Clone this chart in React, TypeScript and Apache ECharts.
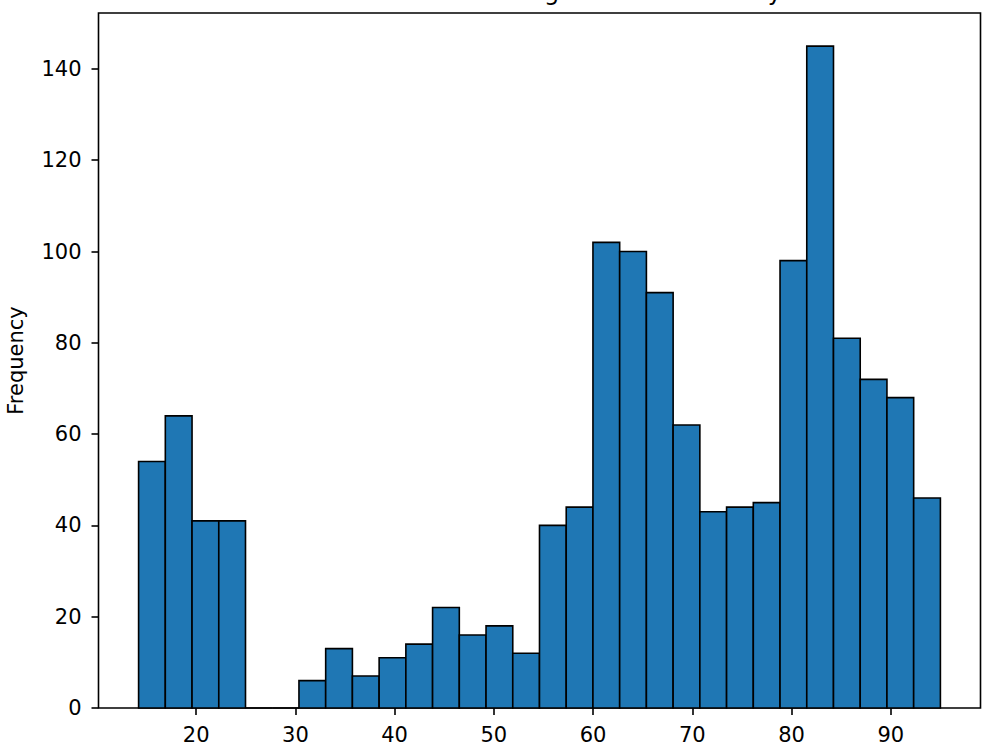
import React, { useEffect, useRef } from "react";
import * as echarts from "echarts";

const titleText = "Distribution of Average Scores in Survey";
const yAxisTitle = "Frequency";
const binStart = 14.2;
const binWidth = 2.6933;
const binCounts = [
  54, 64, 41, 41, 0, 0, 6, 13, 7, 11, 14, 22, 16, 18, 12, 40, 44, 102, 100, 91,
  62, 43, 44, 45, 98, 145, 81, 72, 68, 46,
];
const xTickValues = [20, 30, 40, 50, 60, 70, 80, 90];
const yTickValues = [0, 20, 40, 60, 80, 100, 120, 140];
const xRange = [10.16, 99.04];
const yRange = [0, 152.25];

const FONT = "DejaVu Sans";

export default function App() {
  const ref = useRef<HTMLDivElement>(null);
  useEffect(() => {
    if (!ref.current) return;
    const chart = echarts.init(ref.current, undefined, { renderer: "svg" });
    const data = binCounts.map((c, i) => [
      binStart + i * binWidth,
      binStart + (i + 1) * binWidth,
      c,
    ]);
    chart.setOption({
      animation: false,
      backgroundColor: "#fff",
      grid: {
        left: 98.5,
        right: 19.5,
        top: 13,
        bottom: 42,
        show: true,
        borderColor: "#000",
        borderWidth: 1.6,
        containLabel: false,
        outerBoundsMode: "none",
      },
      graphic: [
        {
          type: "text",
          x: 539.5,
          y: -8,
          silent: true,
          style: {
            text: titleText,
            fontFamily: FONT,
            fontSize: 24,
            fill: "#000",
            textAlign: "center",
            textVerticalAlign: "middle",
          },
        },
      ],
      xAxis: {
        type: "value",
        min: xRange[0],
        max: xRange[1],
        axisLine: { show: false },
        axisTick: {
          show: true,
          length: 7,
          lineStyle: { color: "#000", width: 1.6 },
          customValues: xTickValues,
        },
        axisLabel: {
          show: true,
          customValues: xTickValues,
          margin: 16,
          color: "#000",
          fontFamily: FONT,
          fontSize: 21,
        },
        splitLine: { show: false },
      },
      yAxis: {
        type: "value",
        min: yRange[0],
        max: yRange[1],
        name: yAxisTitle,
        nameLocation: "middle",
        nameGap: 72,
        nameTextStyle: { color: "#000", fontFamily: FONT, fontSize: 21 },
        axisLine: { show: false },
        axisTick: {
          show: true,
          length: 7,
          lineStyle: { color: "#000", width: 1.6 },
          customValues: yTickValues,
        },
        axisLabel: {
          show: true,
          customValues: yTickValues,
          margin: 17,
          color: "#000",
          fontFamily: FONT,
          fontSize: 21,
        },
        splitLine: { show: false },
      },
      series: [
        {
          type: "custom",
          data,
          encode: { x: [0, 1], y: 2 },
          renderItem: (params: any, api: any) => {
            const s = api.coord([api.value(0), 0]);
            const e = api.coord([api.value(1), api.value(2)]);
            return {
              type: "rect",
              shape: {
                x: s[0],
                y: e[1],
                width: e[0] - s[0],
                height: s[1] - e[1],
              },
              style: { fill: "#1f77b4", stroke: "#000", lineWidth: 1.6 },
            };
          },
        },
      ],
    });
    return () => chart.dispose();
  }, []);
  return (
    <div
      ref={ref}
      style={{ position: "absolute", left: 0, top: 0, width: 1000, height: 750 }}
    />
  );
}
